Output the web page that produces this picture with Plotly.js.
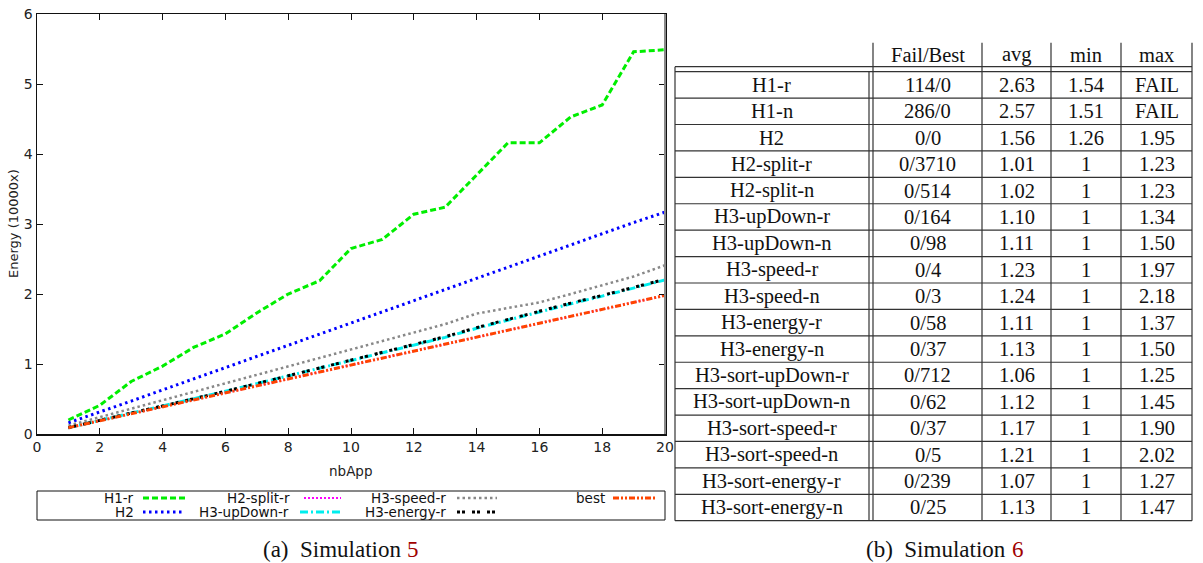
<!DOCTYPE html>
<html>
<head>
<meta charset="utf-8">
<script src="https://cdn.plot.ly/plotly-3.0.1.min.js"></script>
<style>html,body{margin:0;padding:0;background:#fff;}#chart{width:1203px;height:563px;}</style>
</head>
<body>
<div id="chart"></div>
<script>
// ---------- chart data (Simulation 5) ----------
const nbApp = [1,2,3,4,5,6,7,8,9,10,11,12,13,14,15,16,17,18,19,20];
const h1r       = [0.20,0.41,0.75,0.97,1.24,1.43,1.73,2.00,2.19,2.65,2.78,3.14,3.24,3.70,4.16,4.16,4.53,4.70,5.46,5.49];
const h2        = [0.16,0.31,0.47,0.63,0.79,0.95,1.11,1.27,1.43,1.58,1.74,1.90,2.06,2.22,2.38,2.54,2.70,2.86,3.02,3.17];
const h2splitR  = [0.09,0.19,0.29,0.39,0.49,0.59,0.69,0.79,0.89,0.99,1.09,1.19,1.29,1.39,1.49,1.59,1.69,1.79,1.88,1.98];
const h3upDownR = [0.09,0.20,0.30,0.40,0.50,0.61,0.72,0.83,0.94,1.04,1.15,1.27,1.38,1.51,1.63,1.75,1.86,1.97,2.08,2.20];
const h3speedR  = [0.12,0.24,0.36,0.48,0.60,0.72,0.84,0.96,1.08,1.21,1.33,1.45,1.57,1.72,1.80,1.88,2.00,2.12,2.25,2.41];
const h3energyR = [0.09,0.20,0.30,0.40,0.50,0.61,0.72,0.83,0.94,1.05,1.16,1.28,1.39,1.52,1.64,1.76,1.87,1.98,2.09,2.21];
const best      = [0.09,0.19,0.29,0.39,0.49,0.59,0.69,0.79,0.89,0.99,1.09,1.19,1.29,1.39,1.49,1.59,1.69,1.79,1.88,1.98];
const seriesNames = ["H1-r","H2","H2-split-r","H3-upDown-r","H3-speed-r","H3-energy-r","best"];
const xTicks = [0,2,4,6,8,10,12,14,16,18,20];
const yTicks = [0,1,2,3,4,5,6];

// ---------- table data (Simulation 6) ----------
const tableHeader = ["Fail/Best","avg","min","max"];
const tableNames = ["H1-r","H1-n","H2","H2-split-r","H2-split-n","H3-upDown-r","H3-upDown-n","H3-speed-r","H3-speed-n","H3-energy-r","H3-energy-n","H3-sort-upDown-r","H3-sort-upDown-n","H3-sort-speed-r","H3-sort-speed-n","H3-sort-energy-r","H3-sort-energy-n"];
const tableFailBest = ["114/0","286/0","0/0","0/3710","0/514","0/164","0/98","0/4","0/3","0/58","0/37","0/712","0/62","0/37","0/5","0/239","0/25"];
const tableAvg = ["2.63","2.57","1.56","1.01","1.02","1.10","1.11","1.23","1.24","1.11","1.13","1.06","1.12","1.17","1.21","1.07","1.13"];
const tableMin = ["1.54","1.51","1.26","1","1","1","1","1","1","1","1","1","1","1","1","1","1"];
const tableMax = ["FAIL","FAIL","1.95","1.23","1.23","1.34","1.50","1.97","2.18","1.37","1.50","1.25","1.45","1.90","2.02","1.27","1.47"];

// ---------- styles ----------
const styles = [
  {color:"#00ee00", width:3,   dash:"6px,3px"},
  {color:"#0000ff", width:3,   dash:"2.5px,3.5px"},
  {color:"#ff00ff", width:2,   dash:"2px,2px"},
  {color:"#00eeee", width:3,   dash:"8px,3px,2px,3px"},
  {color:"#888888", width:2.5, dash:"2.5px,3px"},
  {color:"#000000", width:3,   dash:"3px,2px,3px,7px"},
  {color:"#ff4500", width:3,   dash:"6px,2px,2px,2px,2px,2px"}
];
const seriesData = [h1r,h2,h2splitR,h3upDownR,h3speedR,h3energyR,best];

// pixel -> paper helpers
const W=1203, H=563, L=37, R=665, T=14, B=434;
const px = x => (x-L)/(R-L);
const py = y => (B-y)/(B-T);

const traces = seriesData.map((d,i)=>({
  type:"scatter", mode:"lines", x:nbApp, y:d, name:seriesNames[i],
  line:{color:styles[i].color, width:styles[i].width, dash:styles[i].dash},
  showlegend:false, hoverinfo:"x+y+name"
}));

const shapes = [];
const annotations = [];
const sans = "DejaVu Sans, sans-serif";
const serif = "Liberation Serif, serif";

function hline(x0,x1,y,color,w){shapes.push({type:"line",xref:"paper",yref:"paper",x0:px(x0),x1:px(x1),y0:py(y),y1:py(y),line:{color:color||"#222",width:w||1}});}
function vline(x,y0,y1,color,w){shapes.push({type:"line",xref:"paper",yref:"paper",x0:px(x),x1:px(x),y0:py(y0),y1:py(y1),line:{color:color||"#222",width:w||1}});}
function text(t,x,y,opt){annotations.push(Object.assign({text:t,xref:"paper",yref:"paper",x:px(x),y:py(y),showarrow:false,xanchor:"center",yanchor:"middle",font:{family:serif,size:20.5,color:"#111"}},opt||{}));}

// right axis line in gray
vline(R, T, B, "#8a8a8a", 2);

// axis titles
text("Energy (10000x)", 13, 224, {textangle:-90, font:{family:sans,size:13,color:"#222"}});
text("nbApp", 351, 471, {font:{family:sans,size:13.5,color:"#222"}});

// manual legend (text right-aligned, sample to its right)
shapes.push({type:"rect",xref:"paper",yref:"paper",x0:px(37),x1:px(665),y0:py(491),y1:py(520),line:{color:"#111",width:1}});
const legPos = [
  {tr:136,s0:143,s1:185,y:498},
  {tr:136,s0:143,s1:185,y:512},
  {tr:292,s0:304,s1:341,y:498},
  {tr:291,s0:300,s1:341,y:512},
  {tr:448,s0:457,s1:497,y:498},
  {tr:448,s0:457,s1:497,y:512},
  {tr:607,s0:613,s1:655,y:498}
];
seriesNames.forEach((n,i)=>{
  const p = legPos[i];
  text(n, p.tr, p.y, {xanchor:"right", font:{family:sans,size:13.5,color:"#111"}});
  shapes.push({type:"line",xref:"paper",yref:"paper",x0:px(p.s0),x1:px(p.s1),y0:py(p.y),y1:py(p.y),
    line:{color:styles[i].color,width:styles[i].width,dash:styles[i].dash}});
});

// captions
const capFont = {family:serif,size:23,color:"#111"};
const capNum = {family:serif,size:23,color:"#a00000"};
text("(a)  Simulation", 403, 549, {xanchor:"right", font:capFont});
text("5", 405, 549, {xanchor:"left", font:capNum});
text("(b)  Simulation", 1008, 549, {xanchor:"right", font:capFont});
text("6", 1010, 549, {xanchor:"left", font:capNum});

// table
const tL=675, tNameR=869, colEdges=[873,982,1051,1121,1192];
const hdrTop=42.7, hdrBot=66.7, bodyTop=71.7, bodyBot=520.7;
const nRows = tableNames.length;
const rowH = (bodyBot-bodyTop)/nRows;
const lc = "#333";
hline(tL, 1192, hdrBot, lc, 1.2);
hline(tL, 1192, bodyTop, lc, 1.2);
for(let k=1;k<=nRows;k++) hline(tL, 1192, bodyTop+k*rowH, lc, 1.2);
vline(tL, hdrBot, bodyBot, lc, 1.2);
vline(tNameR, bodyTop, bodyBot, lc, 1.2);
colEdges.forEach(x=>vline(x, hdrTop, bodyBot, lc, 1.2));
const colCenters = [927.5,1016.5,1086,1156.5];
tableHeader.forEach((h,j)=>text(h, colCenters[j], 55));
const cols = [tableFailBest, tableAvg, tableMin, tableMax];
tableNames.forEach((n,i)=>{
  const yc = bodyTop + (i+0.5)*rowH;
  text(n, 772, yc);
  cols.forEach((c,j)=>text(c[i], colCenters[j], yc));
});

const layout = {
  width:W, height:H,
  margin:{l:L, r:W-R, t:T, b:H-B, pad:0},
  paper_bgcolor:"#fff", plot_bgcolor:"#fff",
  showlegend:false,
  xaxis:{range:[0,20], tickvals:xTicks, ticktext:xTicks.map(String), ticks:"inside", ticklen:6, tickcolor:"#111",
    showline:true, linecolor:"#111", linewidth:1.5, mirror:"ticks", showgrid:false, zeroline:false,
    tickfont:{family:sans,size:14,color:"#222"}},
  yaxis:{range:[0,6], tickvals:yTicks, ticktext:yTicks.map(String), ticks:"inside", ticklen:6, tickcolor:"#111",
    showline:true, linecolor:"#111", linewidth:1.5, mirror:"ticks", showgrid:false, zeroline:false,
    tickfont:{family:sans,size:14,color:"#222"}},
  shapes:shapes, annotations:annotations
};
Plotly.newPlot("chart", traces, layout, {displayModeBar:false, staticPlot:true});
</script>
</body>
</html>
